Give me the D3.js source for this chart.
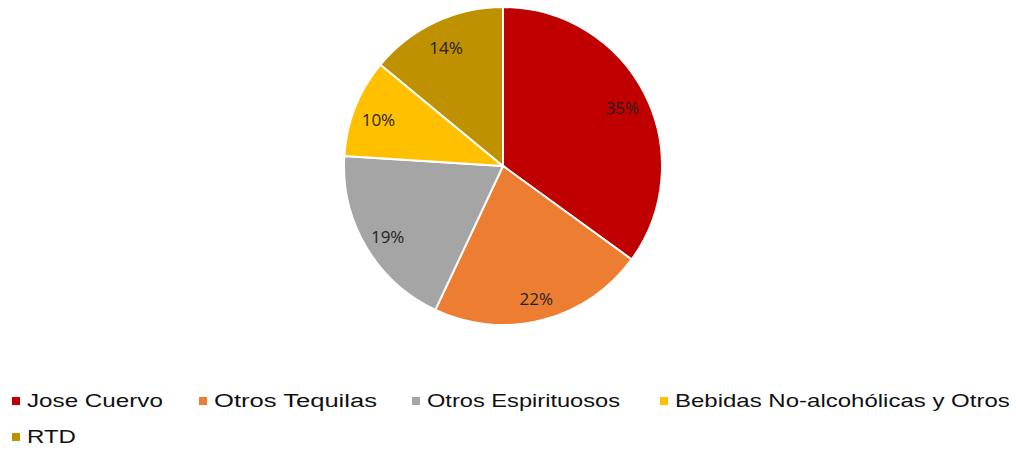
<!DOCTYPE html>
<html>
<head>
<meta charset="utf-8">
<script src="https://cdn.jsdelivr.net/npm/d3@7"></script>
<style>
  body { margin: 0; background: #fff; }
  svg { display: block; }
  .pct { font-family: "Open Sans", "Liberation Sans", sans-serif; font-size: 17px; fill: #1f1f1f; }
  .legend text { font-family: "Liberation Sans", Arial, sans-serif; font-size: 18px; fill: #111; }
</style>
</head>
<body>
<div id="chart"></div>
<script>
// data
var categories = ["Jose Cuervo", "Otros Tequilas", "Otros Espirituosos", "Bebidas No-alcohólicas y Otros", "RTD"];
var shares = [35, 22, 19, 10, 14];
var colors = ["#C00000", "#ED7D31", "#A5A5A5", "#FFC000", "#BF9000"];

var width = 1016, height = 451;
var cx = 503, cy = 166, radius = 159;

var svg = d3.select("#chart").append("svg")
    .attr("width", width)
    .attr("height", height);

var color = d3.scaleOrdinal()
    .domain(categories)
    .range(colors);

var pie = d3.pie()
    .sort(null)
    .value(function (d) { return d.value; });

var arc = d3.arc()
    .outerRadius(radius)
    .innerRadius(0);

var labelArc = d3.arc()
    .outerRadius(134)
    .innerRadius(134);

var data = categories.map(function (c, i) {
    return { name: c, value: shares[i] };
});

var g = svg.append("g")
    .attr("transform", "translate(" + cx + "," + cy + ")");

var slices = g.selectAll(".arc")
    .data(pie(data))
    .enter().append("g")
    .attr("class", "arc");

slices.append("path")
    .attr("d", arc)
    .attr("fill", function (d) { return color(d.data.name); })
    .attr("stroke", "#fff")
    .attr("stroke-width", 2);

slices.append("text")
    .attr("class", "pct")
    .attr("transform", function (d) {
        var c = labelArc.centroid(d);
        return "translate(" + c[0] + "," + (c[1] + 3) + ")";
    })
    .attr("dy", ".35em")
    .attr("text-anchor", "middle")
    .text(function (d) { return d.data.value + "%"; });

// legend, wraps onto a second row like the original
// (the original font is drawn wide, so each label is stretched to its width)
var legendPos = [
    { x: 12, y: 401, w: 136 },
    { x: 199, y: 401, w: 163 },
    { x: 412, y: 401, w: 193 },
    { x: 660, y: 401, w: 335 },
    { x: 12, y: 437, w: 49 }
];

var legend = svg.selectAll(".legend")
    .data(categories)
    .enter().append("g")
    .attr("class", "legend")
    .attr("transform", function (d, i) {
        return "translate(" + legendPos[i].x + "," + legendPos[i].y + ")";
    });

legend.append("rect")
    .attr("x", 0)
    .attr("y", -4)
    .attr("width", 8)
    .attr("height", 8)
    .attr("fill", color);

legend.append("text")
    .attr("dy", ".35em")
    .text(function (d) { return d; })
    .attr("transform", function (d, i) {
        var len = this.getComputedTextLength();
        return "translate(15,0) scale(" + (legendPos[i].w / len) + ",1)";
    });
</script>
</body>
</html>
